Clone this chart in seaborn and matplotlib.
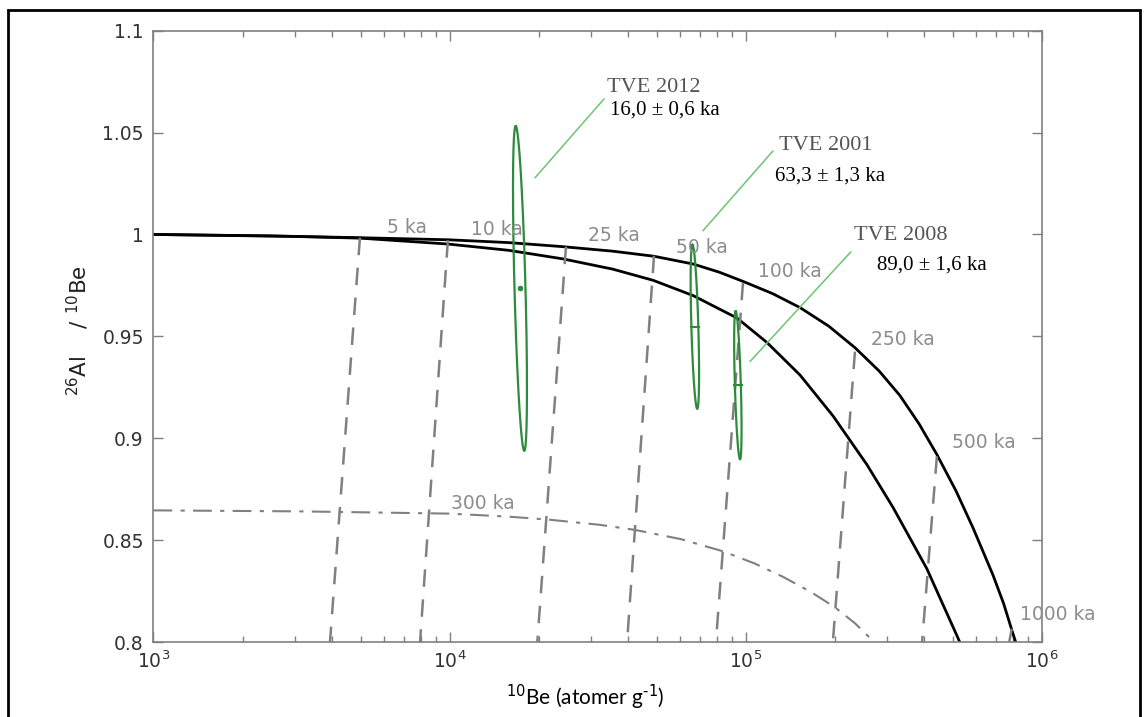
import numpy as np
import matplotlib
matplotlib.use("Agg")
import matplotlib.pyplot as plt
import seaborn as sns
from matplotlib.patches import Rectangle
from matplotlib.ticker import NullLocator

# constant exposure curve (upper black line)
exp_be = [1000, 3162, 4977, 9863, 15850, 24150, 35480, 48980, 66370, 81280, 97720, 123000,
          152400, 190500, 233300, 281800, 331100, 384600, 441600, 512900, 584800, 682300,
          741300, 798000, 814700]
exp_ratio = [1.0000, 0.9990, 0.9984, 0.9974, 0.9960, 0.9940, 0.9918, 0.9893, 0.9855, 0.9815,
             0.9770, 0.9710, 0.9641, 0.9550, 0.9445, 0.9330, 0.9210, 0.9070, 0.8920, 0.8740,
             0.8560, 0.8330, 0.8190, 0.8040, 0.8000]

# steady erosion curve (lower black line)
ero_be = [1000, 2512, 4977, 9863, 15850, 24150, 35480, 48640, 66370, 93330, 117800, 152400,
          196800, 256400, 314100, 408300, 516400, 527200]
ero_ratio = [1.0000, 0.9993, 0.9982, 0.9953, 0.9922, 0.9880, 0.9830, 0.9775, 0.9700, 0.9590,
             0.9470, 0.9310, 0.9110, 0.8870, 0.8660, 0.8360, 0.8030, 0.8000]

# 300 ka burial line (dash-dot)
bur_be = [1000, 3162, 10000, 15850, 21780, 32140, 42270, 60260, 83750, 107200, 133400,
          166000, 200000, 234400, 262400, 269200]
bur_ratio = [0.8646, 0.8641, 0.8630, 0.8615, 0.8600, 0.8575, 0.8550, 0.8505, 0.8445, 0.8385,
             0.8320, 0.8245, 0.8170, 0.8090, 0.8020, 0.8000]

# exposure isochrons (dashed)
iso_labels = ["5 ka", "10 ka", "25 ka", "50 ka", "100 ka", "250 ka", "500 ka", "1000 ka"]
iso_top_be = [4977, 9862, 24700, 48970, 97800, 233500, 441500, 790000]
iso_top_ratio = [0.9984, 0.9972, 0.9940, 0.9896, 0.9763, 0.9425, 0.8911, 0.8065]
iso_bot_be = [3944, 7943, 19770, 39720, 79250, 196700, 393600, 775000]
iso_bot_ratio = [0.8, 0.8, 0.8, 0.8, 0.8, 0.8, 0.8, 0.8]
iso_lab_be = [7178, 14440, 35970, 71290, 140900, 338900, 636600, 1131000]
iso_lab_ratio = [1.0008, 0.9999, 0.9966, 0.9909, 0.9789, 0.9456, 0.8950, 0.8107]
bur_label = "300 ka"
bur_lab_be, bur_lab_ratio = 12940, 0.8654

# samples: error ellipses
samples = ["TVE 2012", "TVE 2001", "TVE 2008"]
ages = ["16,0 ± 0,6 ka", "63,3 ± 1,3 ka", "89,0 ± 1,6 ka"]
be_center = [17275, 67270, 93970]
ratio_center = [0.9735, 0.9547, 0.9260]
ratio_half = [0.0797, 0.0403, 0.0364]
be_half_log = [0.0186, 0.0118, 0.0101]
top_shift_log = [-0.0145, -0.0081, -0.0074]
center_marker = [".", "_", "_"]

# annotation text and leader lines
name_be = [33970, 129300, 231700]
name_ratio = [1.0699, 1.0415, 0.9971]
age_be = [34770, 125300, 277100]
age_ratio = [1.0587, 1.0263, 0.9827]
lead_be0 = [19410, 71600, 103200]
lead_r0 = [1.0278, 1.0018, 0.9376]
lead_be1 = [33190, 123500, 226300]
lead_r1 = [1.0665, 1.0410, 0.9915]

y_ticks = [0.8, 0.85, 0.9, 0.95, 1.0, 1.05, 1.1]
y_tick_labels = ["0.8", "0.85", "0.9", "0.95", "1", "1.05", "1.1"]

sns.set_theme(style="ticks")
plt.rcParams["font.family"] = ["DejaVu Sans"]

fig = plt.figure(figsize=(11.48, 7.17), dpi=100)
ax = fig.add_axes([0.1337, 0.1046, 0.774, 0.8526])
ax.set_xscale("log")

grey = "#808080"
sns.lineplot(x=exp_be, y=exp_ratio, ax=ax, color="black", lw=2.0, estimator=None)
sns.lineplot(x=ero_be, y=ero_ratio, ax=ax, color="black", lw=2.0, estimator=None)
sns.lineplot(x=bur_be, y=bur_ratio, ax=ax, color=grey, lw=1.5, estimator=None,
             linestyle=(0, (9, 4, 2, 4)))

for i in range(len(iso_labels)):
    ax.plot([iso_top_be[i], iso_bot_be[i]], [iso_top_ratio[i], iso_bot_ratio[i]],
            color=grey, lw=1.8, dashes=(7, 5))
    ax.text(iso_lab_be[i], iso_lab_ratio[i], iso_labels[i], color="#8c8c8c", fontsize=13.5,
            ha="center", va="baseline", clip_on=False)
ax.text(bur_lab_be, bur_lab_ratio, bur_label, color="#8c8c8c", fontsize=13.5, ha="center", va="baseline")

t = np.linspace(0, 2 * np.pi, 300)
for i in range(len(samples)):
    lx = np.log10(be_center[i]) + top_shift_log[i] * np.cos(t) + be_half_log[i] * np.sin(t)
    ax.plot(10 ** lx, ratio_center[i] + ratio_half[i] * np.cos(t), color="#2e8b3c", lw=1.6)
    ax.plot(be_center[i], ratio_center[i], marker=center_marker[i], color="#2e8b3c",
            ms=5 if center_marker[i] == "." else 7, mew=1.5)
    ax.plot([lead_be0[i], lead_be1[i]], [lead_r0[i], lead_r1[i]], color="#6cc476", lw=1.1)
    ax.text(name_be[i], name_ratio[i], samples[i], family="Liberation Serif", fontsize=16,
            color="#555555", ha="left", va="baseline")
    ax.text(age_be[i], age_ratio[i], ages[i], family="Liberation Serif", fontsize=15,
            color="black", ha="left", va="baseline")

ax.set_xlim(1e3, 1e6)
ax.set_ylim(0.8, 1.1)
ax.set_yticks(y_ticks, labels=y_tick_labels)
ax.yaxis.set_minor_locator(NullLocator())
ax.tick_params(which="both", direction="in", top=True, right=True, color=grey,
               labelcolor="#333333", labelsize=13.5)
ax.tick_params(which="major", length=7, width=1)
ax.tick_params(which="minor", length=4, width=1)
ax.tick_params(axis="x", pad=6)
ax.tick_params(axis="y", pad=7)
for s in ax.spines.values():
    s.set_color(grey)
    s.set_linewidth(1.2)

ax.set_xlabel("$^{10}$Be (atomer g$^{\u20101}$)", family="Lato", fontsize=15, color="black")
ax.xaxis.set_label_coords(0.486, -0.067)
ax.set_ylabel(r"$^{26}$Al    / $^{10}$Be", fontsize=15.5, color="#222222")
ax.yaxis.set_label_coords(-0.07, 0.51)

fig.patches.append(Rectangle((8 / 1148, -0.05), 1132 / 1148, 1.05 - 10 / 717,
                             transform=fig.transFigure, fill=False, ec="black", lw=2))

fig.savefig("out.png", dpi=100)
